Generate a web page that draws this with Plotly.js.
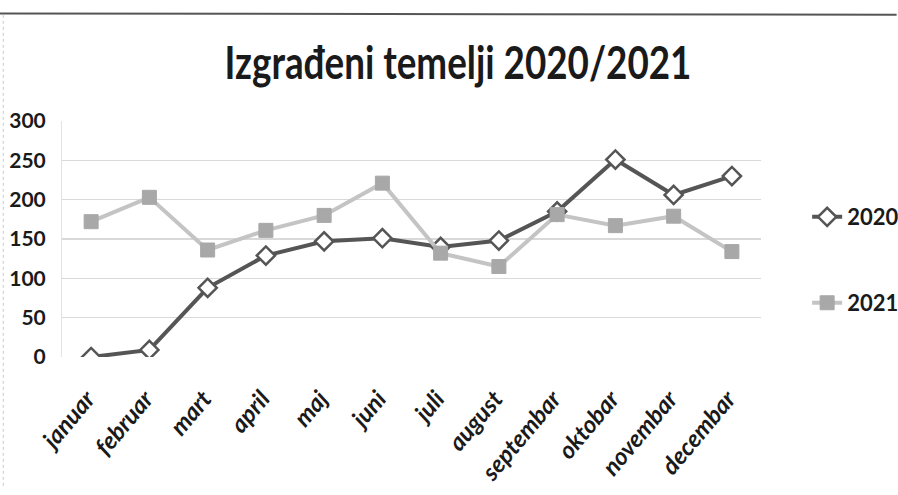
<!DOCTYPE html>
<html>
<head>
<meta charset="utf-8">
<script src="https://cdn.plot.ly/plotly-3.0.1.min.js"></script>
<style>html,body{margin:0;padding:0;background:#fff;}#chart{width:898px;height:495px;}</style>
</head>
<body>
<div id="chart"></div>
<script>
const months = ["januar","februar","mart","april","maj","juni","juli","august","septembar","oktobar","novembar","decembar"];
const values2020 = [0, 9, 88, 129, 147, 151, 140, 148, 185, 251, 206, 230];
const values2021 = [172, 203, 136, 161, 180, 221, 132, 115, 181, 167, 179, 134];
const yTicks = [0, 50, 100, 150, 200, 250, 300];
const titleText = "Izgrađeni temelji 2020/2021";

const traces = [
  {
    x: months, y: values2020, name: "2020", type: "scatter", mode: "lines+markers",
    line: {color: "#555555", width: 4},
    marker: {symbol: "diamond", size: 14, color: "#ffffff", line: {color: "#555555", width: 2.5}},
    legend: "legend", showlegend: true
  },
  {
    x: months, y: values2021, name: "2021", type: "scatter", mode: "lines+markers",
    line: {color: "#c4c4c4", width: 4},
    marker: {symbol: "square", size: 14, color: "#a8a8a8", line: {color: "#a8a8a8", width: 1}},
    legend: "legend2", showlegend: true
  }
];

const legendFont = {family: "Lato, Open Sans, sans-serif", size: 22, color: "#1a1a1a", weight: 700};

const layout = {
  width: 898, height: 495,
  showlegend: true,
  margin: {l: 62, r: 137, t: 121, b: 138, autoexpand: false},
  paper_bgcolor: "#ffffff", plot_bgcolor: "#ffffff",
  title: {text: titleText, x: 458 / 898, xref: "container", xanchor: "center",
          y: 1 - 63 / 495, yref: "container", yanchor: "middle", automargin: false,
          font: {family: "Lato, Open Sans, sans-serif", size: 45, color: "#1a1a1a", weight: 700}},
  xaxis: {
    type: "category", range: [-0.5, months.length - 0.5], tickangle: -50,
    showgrid: false, zeroline: false, automargin: false,
    showline: false, ticks: "", ticklabelstandoff: 22, ticklabelshift: -4,
    tickfont: {family: "Lato, Open Sans, sans-serif", size: 24, color: "#1a1a1a", style: "italic", weight: 700}
  },
  yaxis: {
    range: [0, 300], tickvals: yTicks, ticktext: yTicks.map(String), automargin: false,
    showgrid: true, gridcolor: "#d9d9d9", gridwidth: 1.5, zeroline: false,
    showline: true, linecolor: "#e3e3e3", ticks: "", ticklabelstandoff: 11,
    tickfont: {family: "Lato, Open Sans, sans-serif", size: 21, color: "#1a1a1a", weight: 700}
  },
  legend: {x: 1.066, xanchor: "left", y: 0.593, yanchor: "middle", bgcolor: "rgba(0,0,0,0)",
           font: legendFont, itemwidth: 30},
  legend2: {x: 1.066, xanchor: "left", y: 0.229, yanchor: "middle", bgcolor: "rgba(0,0,0,0)",
           font: legendFont, itemwidth: 30},
  shapes: [
    {type: "line", xref: "paper", yref: "paper", x0: -0.089, x1: 1.194, y0: 1.456, y1: 1.450,
     line: {color: "#555555", width: 2}},
    {type: "line", xref: "paper", yref: "paper", x0: -0.084, x1: -0.084, y0: 1.45, y1: -0.55,
     line: {color: "#c8c8c8", width: 1, dash: "dot"}}
  ]
};

Plotly.newPlot("chart", traces, layout, {displayModeBar: false, staticPlot: true}).then(function (gd) {
  // Narrow the title horizontally to mimic the condensed original typeface
  const g = gd.querySelector(".g-gtitle");
  const t = g && g.querySelector("text");
  if (t) {
    const bb = t.getBBox();
    const cx = bb.x + bb.width / 2;
    const s = 467 / bb.width;
    g.setAttribute("transform", "translate(" + cx + ",0) scale(" + s + ",1) translate(" + (-cx) + ",0)");
  }
});
</script>
</body>
</html>
